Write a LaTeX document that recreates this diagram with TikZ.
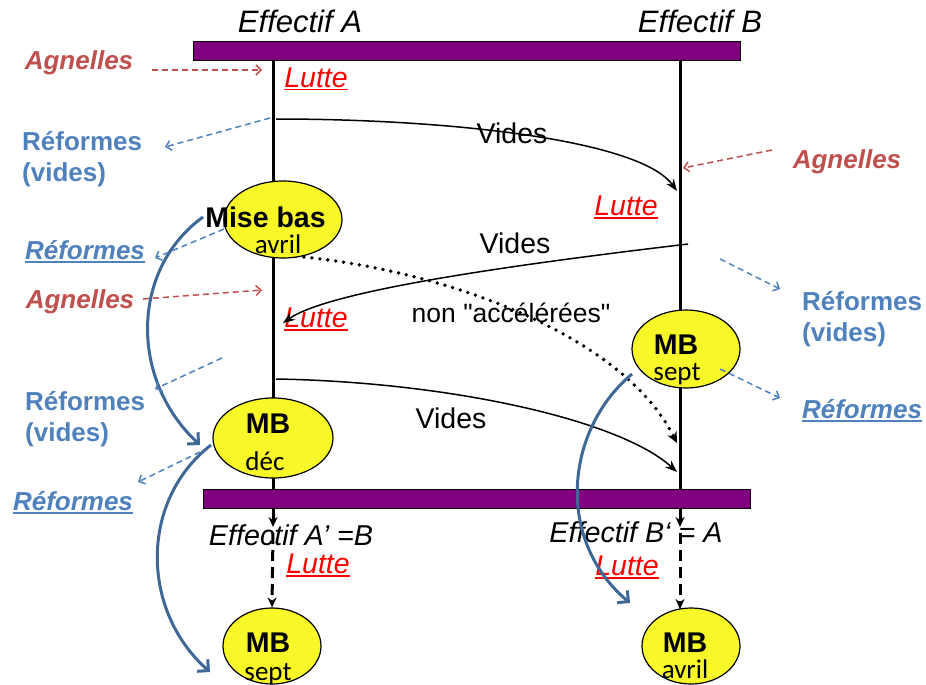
\documentclass[tikz,border=0pt]{standalone}
\usepackage{fontspec}
\setmainfont{Liberation Sans}
\newfontfamily\rawsans{Liberation Sans}[Ligatures=TeXOff]
\newfontfamily\calfont{Carlito}
\usetikzlibrary{shapes.geometric,arrows.meta,backgrounds}
\definecolor{barpurple}{RGB}{128,0,128}
\definecolor{agncol}{RGB}{192,80,77}
\definecolor{refcol}{RGB}{79,129,189}
\definecolor{bluecol}{RGB}{62,104,150}
\definecolor{ellcol}{RGB}{248,248,40}
\newcommand{\fsz}[2]{\fontsize{#1}{#2}\selectfont}
\newcommand{\ulx}[1]{\setbox0\hbox{#1}\rlap{\rule[-3.5pt]{\wd0}{1.8pt}}\box0}
\begin{document}
\begin{tikzpicture}[x=1pt,y=-1pt,
  txt/.style={inner sep=0pt, anchor=base},
  bar/.style={draw=black, line width=0.8pt, fill=barpurple, inner sep=0pt, anchor=north west, minimum width=547pt, minimum height=19pt},
  ellbox/.style={ellipse, draw=black, line width=1.2pt, fill=ellcol, inner sep=0pt},
  lut/.style={txt, text=red, font=\fsz{28.5}{34}\itshape},
  eff/.style={txt, font=\fsz{31}{37}\itshape},
  eff2/.style={txt, font=\fsz{28.7}{34}\itshape},
  agn/.style={txt, text=agncol, font=\fsz{26}{31}\bfseries\itshape},
  refv/.style={inner sep=0pt, anchor=base west, text=refcol, font=\fsz{26}{31}\bfseries},
  refu/.style={txt, text=refcol, font=\fsz{26}{31}\bfseries\itshape},
  big/.style={txt, font=\fsz{28.5}{34}\bfseries},
  small/.style={txt, font=\fsz{27}{32}\calfont},
  vid/.style={txt, font=\fsz{28.5}{34}},
  thinarr/.style={line width=1.5pt, -{Stealth[length=12pt,width=9pt]}},
  vline/.style={line width=3pt, -{Stealth[length=10pt,width=9pt]}},
  dashv/.style={line width=3pt, dash pattern=on 11pt off 6pt, -{Stealth[length=10pt,width=9pt]}},
  redarr/.style={draw=agncol, line width=1.5pt, dash pattern=on 6pt off 4pt, -{Straight Barb[length=5pt,width=10pt]}},
  bluedash/.style={draw=refcol, line width=1.5pt, dash pattern=on 6pt off 4pt, -{Straight Barb[length=5pt,width=10pt]}},
  bigblue/.style={draw=bluecol, line width=3pt, -{Straight Barb[length=8pt,width=16pt]}},
  dotline/.style={line width=3.8pt, line cap=round, dash pattern=on 0pt off 8pt, -{Stealth[length=11pt,width=10pt]}}
]
\path[use as bounding box] (0,0) rectangle (926,685);
\begin{pgfonlayer}{background}
\fill[white] (0,0) rectangle (926,685);
\end{pgfonlayer}

% bars
\node[bar] (topbar) at (193,41) {};
\node[bar] (botbar) at (203,489) {};

% ellipses
\node[ellbox, minimum width=118pt, minimum height=77pt] (e1) at (283,219.5) {};
\node[ellbox, minimum width=120pt, minimum height=80pt] (e2) at (273,438) {};
\node[ellbox, minimum width=108pt, minimum height=78pt] (e3) at (686,349) {};
\node[ellbox, minimum width=98pt, minimum height=76pt] (e4) at (272,646) {};
\node[ellbox, minimum width=98pt, minimum height=76pt] (e5) at (691,646) {};

% ellipse texts
\node[big] (t1a) at (265.5,227) {Mise bas};
\node[small] (t1b) at (278,253) {avril};
\node[big] (t2a) at (268,433) {MB};
\node[small] (t2b) at (265,470) {déc};
\node[big] (t3a) at (676,354) {MB};
\node[small] (t3b) at (677,380) {sept};
\node[big] (t4a) at (268,652) {MB};
\node[small] (t4b) at (268,680) {sept};
\node[big] (t5a) at (685,652) {MB};
\node[small] (t5b) at (685,678) {avril};

% titles
\node[eff] (effA) at (300,33) {Effectif A};
\node[eff] (effB) at (700,33) {Effectif B};
\node[eff2] (effA2) at (291,545) {Effectif A’ =B};
\node[eff2] (effB2) at (636,542) {Effectif B‘ = A};

% Lutte
\node[lut] (l1) at (316,87) {\ulx{Lutte}};
\node[lut] (l2) at (626,215) {\ulx{Lutte}};
\node[lut] (l3) at (316,327) {\ulx{Lutte}};
\node[lut] (l4) at (318,573) {\ulx{Lutte}};
\node[lut] (l5) at (627,575) {\ulx{Lutte}};

% Vides
\node[vid] (v1) at (512,143) {Vides};
\node[vid] (v2) at (515,253) {Vides};
\node[vid] (v3) at (451,428) {Vides};
\node[txt, font=\fsz{26.5}{32}\rawsans] (nonacc) at (511,322) {non "accélérées"};

% Agnelles
\node[agn] (ag1) at (79,70) {Agnelles};
\node[agn] (ag2) at (847,168) {Agnelles};
\node[agn] (ag3) at (80,308) {Agnelles};

% Reformes
\node[refv] (rv1) at (22,150) {\begin{tabular}[t]{@{}l@{}}Réformes\\(vides)\end{tabular}};
\node[refv] (rv2) at (25,410) {\begin{tabular}[t]{@{}l@{}}Réformes\\(vides)\end{tabular}};
\node[refv] (rv3) at (802,310) {\begin{tabular}[t]{@{}l@{}}Réformes\\(vides)\end{tabular}};
\node[refu] (ru1) at (85,259) {\ulx{Réformes}};
\node[refu] (ru2) at (73,510) {\ulx{Réformes}};
\node[refu] (ru3) at (862,418) {\ulx{Réformes}};

% coordinates
\coordinate (Atop) at (273,60);
\coordinate (Aend) at (273,527);
\coordinate (Btop) at (680,60);
\coordinate (Bend) at (680,527);
\coordinate (Ads) at (273,533);
\coordinate (Bds) at (680,533);
\coordinate (Bdse) at (680,609);

\begin{pgfonlayer}{background}
\draw[vline] (Atop) -- (Aend);
\draw[vline] (Btop) -- (Bend);
\draw[dotline] (280,255) .. controls (430,265) and (620,330) .. (677,443);
\end{pgfonlayer}

\draw[dashv] (Ads) -- (e4.north);
\draw[dashv] (Bds) -- (Bdse);

% Vides curves
\coordinate (v1s) at (276,119);
\coordinate (v1e) at (677,191);
\coordinate (v2s) at (688,244);
\coordinate (v2e) at (283,323);
\coordinate (v3s) at (276,379);
\coordinate (v3e) at (677,472);
\draw[thinarr] (v1s) .. controls (450,119) and (640,140) .. (v1e);
\draw[thinarr] (v2s) .. controls (520,264) and (330,290) .. (v2e);
\draw[thinarr] (v3s) .. controls (450,382) and (620,420) .. (v3e);

% big blue arrows
\coordinate (b1s) at (203,217);
\coordinate (b1e) at (200,445);
\coordinate (b2s) at (211,445);
\coordinate (b2e) at (210,672);
\coordinate (b3s) at (632,374);
\coordinate (b3e) at (630,603);
\draw[bigblue] (b1s) .. controls (130,270) and (130,380) .. (b1e);
\draw[bigblue] (b2s) .. controls (140,500) and (140,610) .. (b2e);
\draw[bigblue] (b3s) .. controls (565,430) and (555,540) .. (b3e);

% red dashed arrows
\coordinate (r1s) at (152,70);   \coordinate (r1e) at (262,70);
\coordinate (r2s) at (772,150);  \coordinate (r2e) at (683,168);
\coordinate (r3s) at (143,299);  \coordinate (r3e) at (262,290);
\draw[redarr] (r1s) -- (r1e);
\draw[redarr] (r2s) -- (r2e);
\draw[redarr] (r3s) -- (r3e);

% blue dashed arrows
\coordinate (d1s) at (270,118);  \coordinate (d1e) at (165,147);
\coordinate (d2s) at (224,229);  \coordinate (d2e) at (155,258);
\coordinate (d3s) at (222,358);  \coordinate (d3e) at (155,389);
\coordinate (d4s) at (200,452);  \coordinate (d4e) at (138,482);
\coordinate (d5s) at (720,259);  \coordinate (d5e) at (780,289);
\coordinate (d6s) at (720,369);  \coordinate (d6e) at (780,398);
\draw[bluedash] (d1s) -- (d1e);
\draw[bluedash] (d2s) -- (d2e);
\draw[bluedash] (d3s) -- (d3e);
\draw[bluedash] (d4s) -- (d4e);
\draw[bluedash] (d5s) -- (d5e);
\draw[bluedash] (d6s) -- (d6e);
\end{tikzpicture}
\end{document}
